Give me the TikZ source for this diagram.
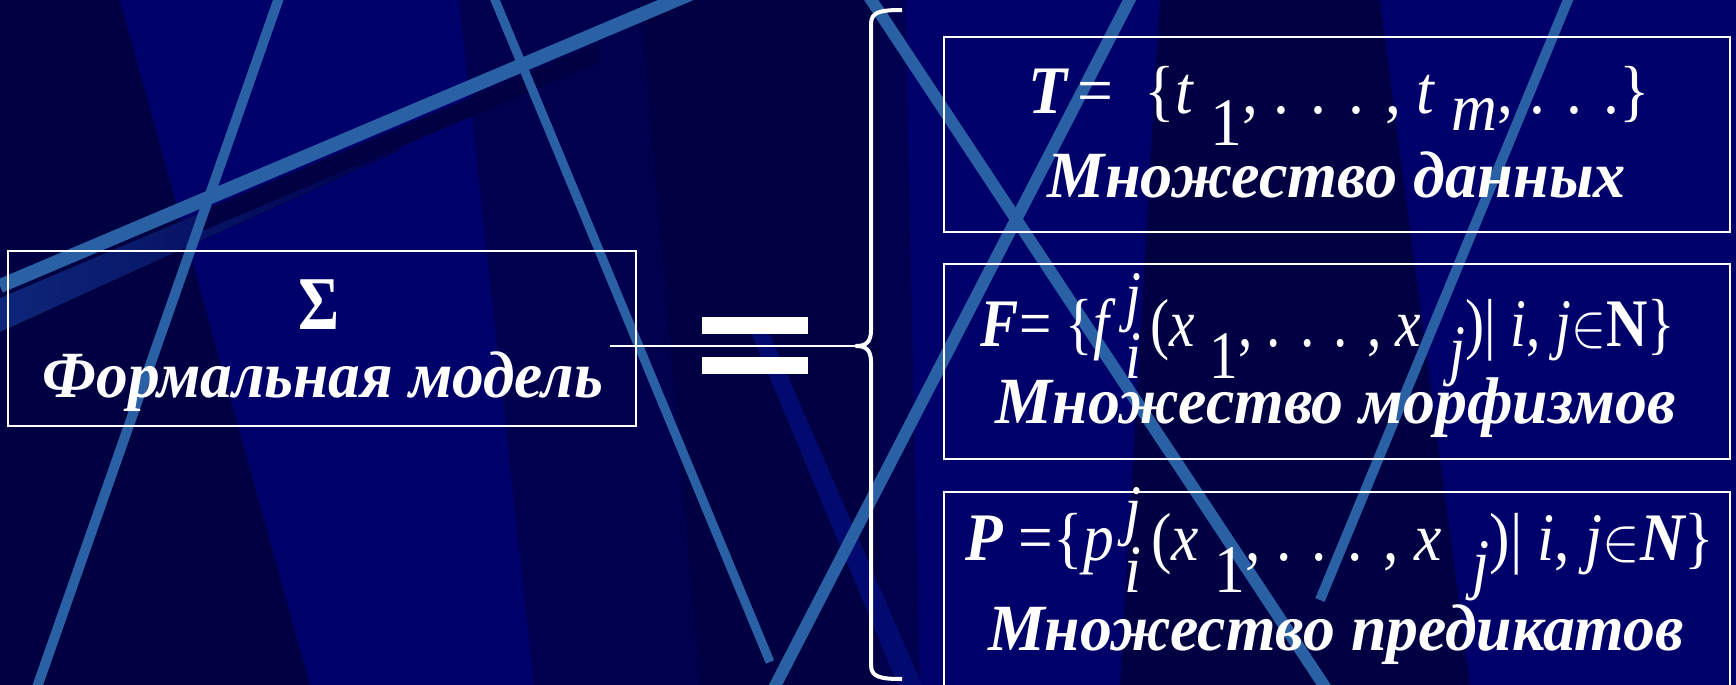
\documentclass[tikz,border=0pt]{standalone}
\usepackage{fontspec}
\setmainfont{Liberation Serif}
\usepackage{graphicx}
\definecolor{bgbase}{RGB}{0,0,78}
\definecolor{bgpanel}{RGB}{0,0,106}
\definecolor{bgdark}{RGB}{0,0,66}
\definecolor{stripe}{RGB}{42,96,164}
\definecolor{stripedim}{RGB}{14,38,122}
\definecolor{navyband}{RGB}{2,10,112}
\newcommand{\cyr}{\fontsize{33pt}{38pt}\selectfont\bfseries\itshape}
\newcommand{\frm}{\fontsize{34pt}{40pt}\selectfont}
\newcommand{\dn}[2]{\raisebox{-#1}{#2}}
\newcommand{\elem}{\scalebox{1.25}{$\in$}}
\begin{document}
\begin{tikzpicture}[x=0.5pt,y=-0.5pt,
  box/.style={draw=white, line width=1.2pt, inner sep=0pt},
  txt/.style={text=white, anchor=base, inner sep=0pt},
  bar/.style={fill=white, inner sep=0pt, minimum width=53pt, minimum height=8.5pt},
  stripeline/.style={draw=stripe, line width=5pt}]
\useasboundingbox (0,0) rectangle (1736,685);
% ---------- background ----------
\begin{scope}
\clip (0,0) rectangle (1736,685);
\fill[bgbase] (0,0) rectangle (1736,685);
\fill[bgdark] (0,0) -- (120,0) -- (310,685) -- (0,685) -- cycle;
\fill[bgpanel] (120,0) -- (459,0) -- (534,685) -- (310,685) -- cycle;
\fill[bgdark] (640,0) -- (880,0) -- (880,685) -- (700,685) -- cycle;
\fill[bgpanel] (905,0) -- (1160,0) -- (1120,685) -- (920,685) -- cycle;
\fill[bgdark] (1160,0) -- (1380,0) -- (1470,685) -- (1120,685) -- cycle;
\fill[bgpanel] (1380,0) -- (1736,0) -- (1736,685) -- (1470,685) -- cycle;
% navy band lower middle
\fill[navyband] (750,330) -- (768,330) -- (922,685) -- (898,685) -- cycle;
% wide band under the big diagonal
\fill[left color=stripedim, right color=bgbase] (0,298) -- (400,128) -- (400,150) -- (0,332) -- cycle;
\fill[bgdark] (200,212) -- (600,43) -- (600,62) -- (200,232) -- cycle;
% light stripes
\draw[stripeline, line width=7pt] (0,286) -- (690,-6);
\draw[stripeline] (281,-8) -- (35,693);
\draw[stripeline, line width=4.5pt] (493,-5) -- (770,662);
\draw[stripeline, line width=6pt] (868,-5) -- (1327,690);
\draw[stripeline, line width=6pt] (1132,-5) -- (773,690);
\draw[stripeline, line width=5pt] (1570,-5) -- (1320,600);
\end{scope}
% ---------- left box ----------
\node[box, minimum width=314pt, minimum height=87.5pt] (model) at (322,338.5) {};
\node[txt, font=\fontsize{38pt}{42pt}\selectfont\bfseries] (sigma) at (319,329) {\resizebox{20.5pt}{\height}{Σ}};
\node[txt] (modeltext) at (323,397) {\cyr\resizebox{280pt}{\height}{Формальная модель}};
% ---------- equals ----------
\node[bar] (eqtop) at (755,325.5) {};
\node[bar] (eqbot) at (755,365) {};
% ---------- brace ----------
\coordinate (tip) at (856,346);
\coordinate (lstart) at (610,346);
\draw[white, line width=2pt, line join=round]
  (902,10) .. controls (880,10) and (871,12) .. (871,24)
  -- (871,330) .. controls (871,342) and (866,346) .. (tip)
  .. controls (866,346) and (871,350) .. (871,362)
  -- (871,665) .. controls (871,677) and (880,679) .. (902,679);
\draw[white, line width=0.8pt] (lstart) -- (tip);
% ---------- right boxes ----------
\node[box, minimum width=393pt, minimum height=97.5pt] (boxT) at (1337,134.5) {};
\node[box, minimum width=393pt, minimum height=97.5pt] (boxF) at (1337,361.5) {};
\node[box, minimum width=393pt, minimum height=114pt] (boxP) at (1337,606) {};
% formulas
\node[txt] (formT) at (1339,113) {\frm\resizebox{311pt}{\height}{{\bfseries\itshape T}\,=\ \ \{\textit{t}\ \dn{16pt}{1}, . . . , \textit{t}\ \dn{8.5pt}{\textit{m}}, . . .\}}};
\node[txt] (formF) at (1328,346) {\frm\resizebox{347pt}{\height}{{\bfseries\itshape F}= \{\textit{f}\,\rlap{\raisebox{14pt}{\textit{j}}}\dn{16pt}{\textit{i}}\,(\textit{x}\ \dn{16pt}{1}, . . . , \textit{x}\ \ \dn{13pt}{\textit{j}})| \textit{i}, \textit{j}\elem{\bfseries N}\}}};
\node[txt] (formP) at (1340,560) {\frm\resizebox{374pt}{\height}{{\bfseries\itshape P} =\{\textit{p}\,\rlap{\raisebox{14pt}{\textit{j}}}\dn{16pt}{\textit{i}}\,(\textit{x}\ \dn{16pt}{1}, . . . , \textit{x}\ \ \dn{13pt}{\textit{j}})| \textit{i}, \textit{j}\elem{\bfseries\itshape N}\}}};
% captions
\node[txt] (textT) at (1337,197) {\cyr\resizebox{289pt}{\height}{Множество данных}};
\node[txt] (textF) at (1336,423) {\cyr\resizebox{340pt}{\height}{Множество морфизмов}};
\node[txt] (textP) at (1336,650) {\cyr\resizebox{348pt}{\height}{Множество предикатов}};
\end{tikzpicture}
\end{document}
